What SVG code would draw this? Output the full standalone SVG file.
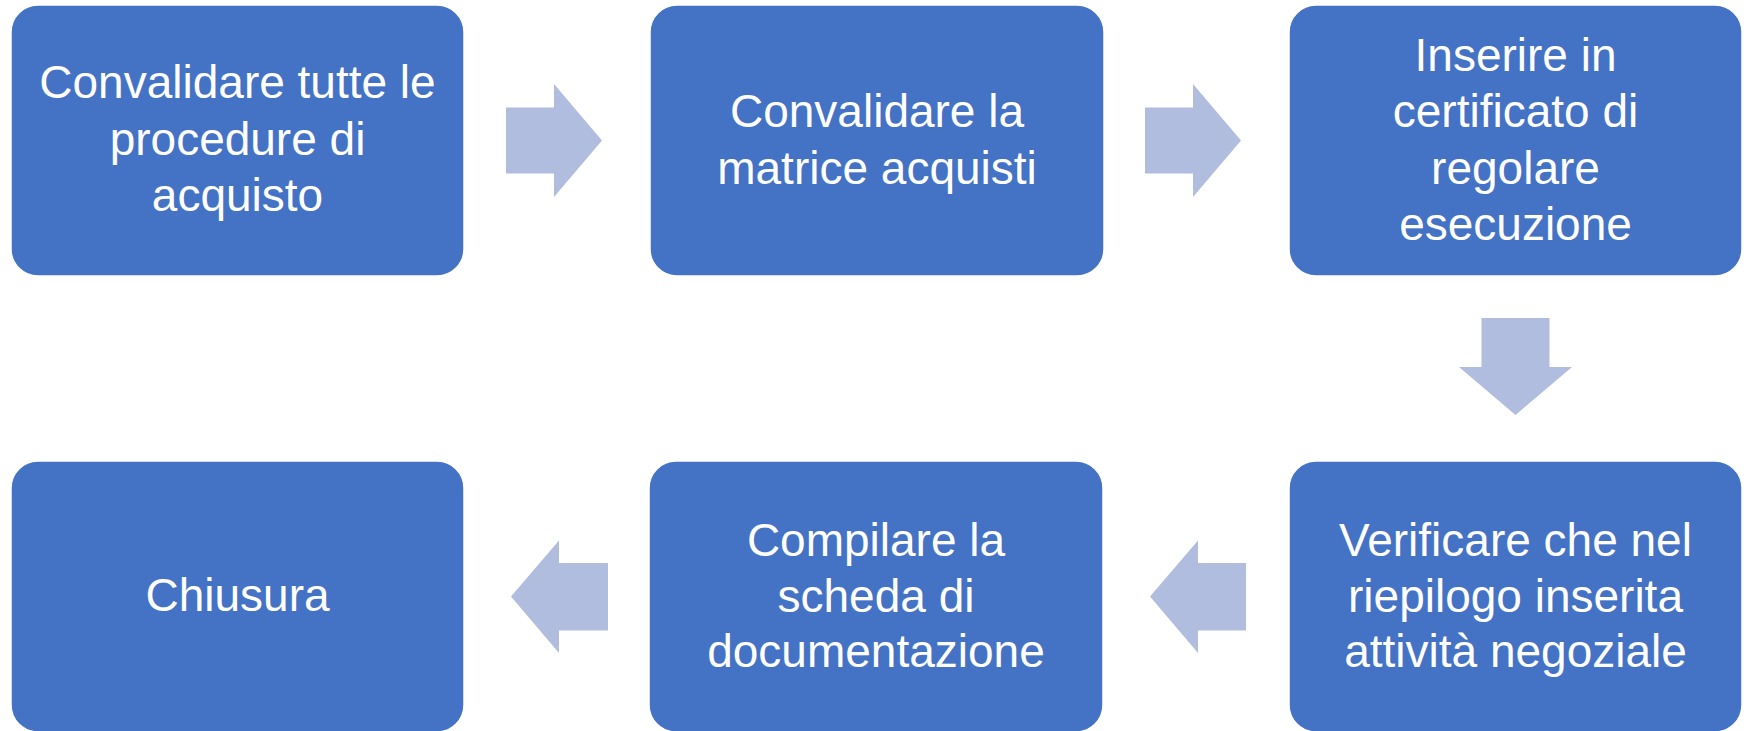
<svg xmlns="http://www.w3.org/2000/svg" width="1747" height="731" viewBox="0 0 1747 731">
<style>
.box{fill:#4472C4;stroke:#FFFFFF;stroke-width:1.5}
.arrow{fill:#B0BDDF}
.t{font-family:"Liberation Sans",Arial,sans-serif;font-size:46px;fill:#FFFFFF;text-anchor:middle}
</style>
<rect width="1747" height="731" fill="#FFFFFF"/>
<g id="connectors">
<polygon class="arrow" points="506,107.5 554,107.5 554,84 602,140.5 554,197 554,173.5 506,173.5"/>
<polygon class="arrow" points="1145,107.5 1193,107.5 1193,84 1241,140.5 1193,197 1193,173.5 1145,173.5"/>
<polygon class="arrow" points="1481.5,318 1549.5,318 1549.5,367 1572,367 1515.5,415 1459,367 1481.5,367"/>
<polygon class="arrow" points="1246,563 1198,563 1198,540.5 1150,596.5 1198,653 1198,630.5 1246,630.5"/>
<polygon class="arrow" points="608,563 559,563 559,540.5 511,596.5 559,653 559,630.5 608,630.5"/>
</g>
<g id="node1">
<rect class="box" x="11" y="5" width="453" height="271" rx="27"/>
<text class="t" x="237.5" y="98">Convalidare tutte le</text>
<text class="t" x="237.5" y="155">procedure di</text>
<text class="t" x="237.5" y="211">acquisto</text>
</g>
<g id="node2">
<rect class="box" x="650" y="5" width="454" height="271" rx="27"/>
<text class="t" x="877" y="127">Convalidare la</text>
<text class="t" x="877" y="184">matrice acquisti</text>
</g>
<g id="node3">
<rect class="box" x="1289" y="5" width="453" height="271" rx="27"/>
<text class="t" x="1515.5" y="71">Inserire in</text>
<text class="t" x="1515.5" y="127">certificato di</text>
<text class="t" x="1515.5" y="183.5">regolare</text>
<text class="t" x="1515.5" y="240">esecuzione</text>
</g>
<g id="node4">
<rect class="box" x="1289" y="461" width="453" height="271" rx="27"/>
<text class="t" x="1515.5" y="556">Verificare che nel</text>
<text class="t" x="1515.5" y="611.5">riepilogo inserita</text>
<text class="t" x="1515.5" y="667">attività negoziale</text>
</g>
<g id="node5">
<rect class="box" x="649" y="461" width="454" height="271" rx="27"/>
<text class="t" x="876" y="556">Compilare la</text>
<text class="t" x="876" y="611.5">scheda di</text>
<text class="t" x="876" y="667">documentazione</text>
</g>
<g id="node6">
<rect class="box" x="11" y="461" width="453" height="271" rx="27"/>
<text class="t" x="237.5" y="611">Chiusura</text>
</g>
</svg>
